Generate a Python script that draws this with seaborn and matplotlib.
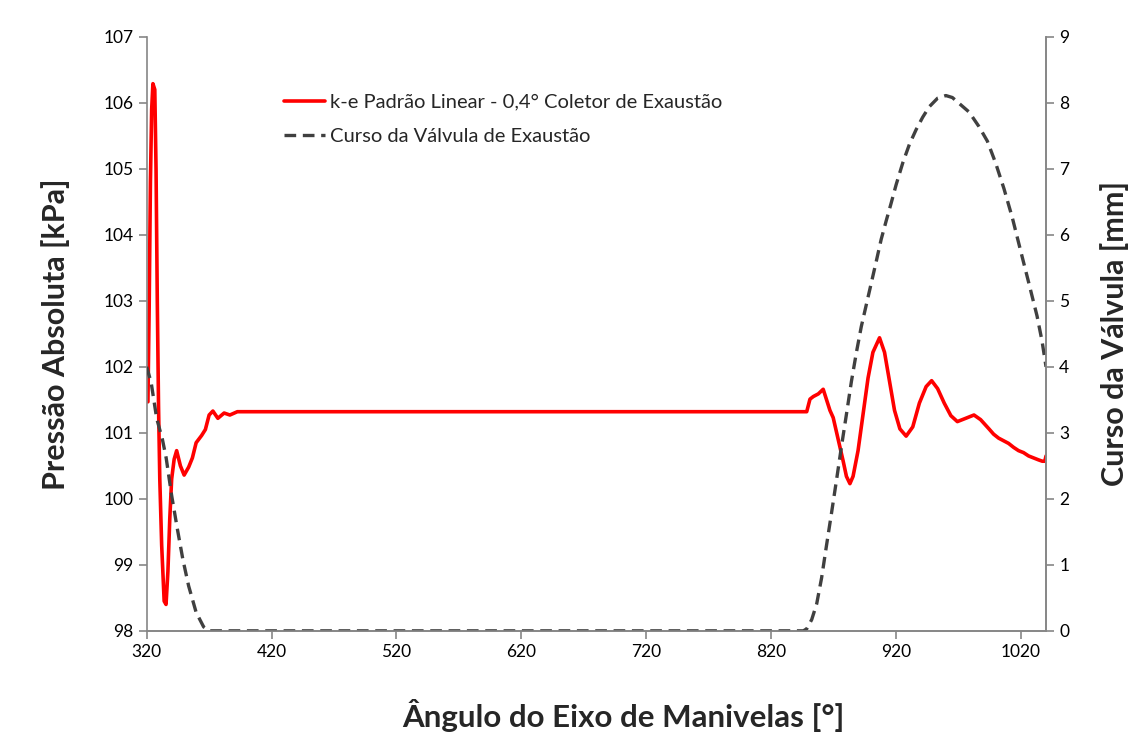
import seaborn as sns
import matplotlib.pyplot as plt
import pandas as pd

# Pressure trace (k-e linear, 0.4 deg exhaust collector)
ang_p = [321, 322, 323, 324, 325, 326.5, 327.5, 328.5, 329.5, 330.5, 332, 334, 335.5, 337,
         338.5, 340, 342, 344, 347, 350, 353.6, 356.6, 359.6, 364, 367, 370, 373, 377,
         382, 386.6, 392.6, 420, 520, 620, 720, 820, 848.4, 851, 853.7, 857.7, 861.6,
         864.3, 867, 869.6, 873.6, 877.6, 880.2, 883, 885.5, 889.5, 893.5, 897.5, 901.4,
         906.7, 910.7, 914.7, 918.7, 923, 928, 933.3, 938.6, 944, 948.4, 953.2, 958.5,
         963.8, 969, 975.7, 982.3, 987.6, 994.3, 998, 1002, 1006, 1010, 1014, 1018,
         1022, 1026, 1030, 1034, 1037, 1039, 1040]
pres = [101.47, 102.9, 104.8, 105.9, 106.29, 106.2, 105.0, 103.0, 101.4, 100.3, 99.3,
        98.45, 98.4, 98.9, 99.7, 100.3, 100.6, 100.73, 100.5, 100.36, 100.48, 100.62,
        100.85, 100.96, 101.05, 101.27, 101.33, 101.22, 101.30, 101.27, 101.32, 101.32,
        101.32, 101.32, 101.32, 101.32, 101.32, 101.51, 101.55, 101.59, 101.66, 101.5,
        101.34, 101.23, 100.9, 100.57, 100.34, 100.23, 100.34, 100.73, 101.28, 101.83,
        102.22, 102.44, 102.22, 101.78, 101.34, 101.06, 100.95, 101.09, 101.45, 101.70,
        101.79, 101.67, 101.45, 101.26, 101.17, 101.22, 101.27, 101.20, 101.06, 100.98,
        100.92, 100.88, 100.84, 100.78, 100.73, 100.70, 100.65, 100.62, 100.59, 100.57,
        100.57, 100.65]

# Exhaust valve lift
ang_v = [320, 323.6, 328, 332.6, 335.6, 340, 344.6, 349, 353.6, 359.6, 365.6, 370, 420,
         520, 620, 720, 820, 845.7, 848.4, 852.4, 856.4, 860.3, 864.3, 868.3, 872.3,
         876.2, 880.2, 884.2, 888.2, 892.1, 896.1, 900.1, 904.1, 908, 912, 916, 920,
         925.3, 930.6, 935.9, 941.2, 946.5, 953.2, 959.8, 965, 971.7, 978.4, 986.3,
         993, 999.6, 1006.3, 1013, 1019.5, 1026.2, 1032.8, 1036.8, 1040]
lift = [4.0, 3.76, 3.22, 2.9, 2.62, 2.05, 1.54, 1.08, 0.68, 0.28, 0.06, 0.0, 0.0, 0.0,
        0.0, 0.0, 0.0, 0.0, 0.03, 0.17, 0.41, 0.8, 1.3, 1.79, 2.29, 2.79, 3.28, 3.78,
        4.22, 4.61, 4.94, 5.27, 5.6, 5.93, 6.21, 6.48, 6.76, 7.09, 7.37, 7.59, 7.78,
        7.94, 8.07, 8.11, 8.08, 7.97, 7.86, 7.64, 7.42, 7.09, 6.70, 6.26, 5.77, 5.27,
        4.77, 4.39, 4.0]

x_ticks = [320, 420, 520, 620, 720, 820, 920, 1020]

label_p = 'k-e Padrão Linear - 0,4° Coletor de Exaustão'
label_v = 'Curso da Válvula de Exaustão'

df_p = pd.DataFrame({'ang': ang_p, 'val': pres})
df_v = pd.DataFrame({'ang': ang_v, 'val': lift})

sns.set_style('white')
plt.rcParams['font.family'] = ['Lato', 'DejaVu Sans']

fig, ax = plt.subplots(figsize=(11.37, 7.51), dpi=100)
fig.subplots_adjust(left=0.129, right=0.920, top=0.951, bottom=0.160)
ax2 = ax.twinx()

sns.lineplot(data=df_p, x='ang', y='val', ax=ax, color='#ff0000', lw=2.6,
             label=label_p, legend=False)
sns.lineplot(data=df_v, x='ang', y='val', ax=ax2, color='#404040', lw=2.4,
             linestyle=(0, (3.5, 2)), label=label_v, legend=False)

gray = '#868686'
ax.set_xlim(320, 1040)
ax.set_ylim(98, 107)
ax2.set_ylim(0, 9)
ax.set_xticks(x_ticks)
ax.set_yticks(range(98, 108))
ax2.set_yticks(range(0, 10))

for a in (ax, ax2):
    a.spines['top'].set_visible(False)
    for s in ('left', 'right', 'bottom'):
        a.spines[s].set_color(gray)
        a.spines[s].set_linewidth(1.2)
    a.tick_params(direction='out', length=6, width=1.2, color=gray,
                  labelsize=12.5, labelcolor='black')
ax.tick_params(left=True, bottom=True)
ax2.tick_params(right=True)
ax2.spines['left'].set_visible(False)

ax.set_xlabel('Ângulo do Eixo de Manivelas [°]', fontsize=22.5, fontweight='bold')
ax.xaxis.set_label_coords(0.53, -0.115)
ax.set_ylabel('Pressão Absoluta [kPa]', fontsize=22, fontweight='bold', labelpad=24)
ax2.set_ylabel('Curso da Válvula [mm]', fontsize=22, fontweight='bold', labelpad=22)

h1, l1 = ax.get_legend_handles_labels()
h2, l2 = ax2.get_legend_handles_labels()
ax.legend(h1 + h2, l1 + l2, loc='upper left', bbox_to_anchor=(0.133, 0.935),
          frameon=False, fontsize=14.5, handlelength=2.0, handletextpad=0.25,
          labelspacing=0.85)

plt.savefig('out.png')
